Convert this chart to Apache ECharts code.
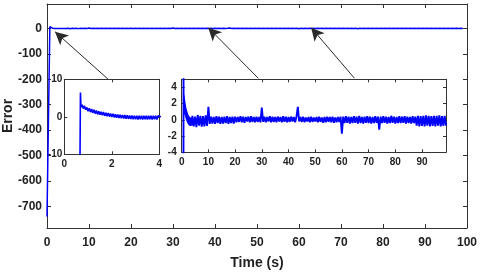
<!DOCTYPE html>
<html>
<head>
<meta charset="utf-8">
<script src="https://cdn.jsdelivr.net/npm/echarts@6/dist/echarts.min.js"></script>
<style>html,body{margin:0;padding:0;background:#fff;}#c{width:480px;height:274px;}</style>
</head>
<body>
<div id="c"></div>
<script>
// ---- DATA ----
// initial transient (time s, error)
const startT = [0, 0.66, 0.68, 0.70];
const startE = [-740, -12, 6.5, 2.6];
// decay segment, sampled every 0.05 s from 0.75 s
const decayT0 = 0.75, decayStep = 0.05;
const decayE = [3.2,2.2,2.9,1.9,2.5,1.5,2.3,1.25,2.05,1.05,1.85,0.85,1.65,0.65,1.5,0.55,1.35,0.4,1.25,0.25,
  1.1,0.15,1.0,0.05,0.9,-0.05,0.8,-0.15,0.7,-0.25,0.6,-0.3,0.55,-0.4,0.5,-0.45,0.45,-0.5,0.4,-0.55,
  0.35,-0.6,0.35,-0.65,0.3,-0.65,0.3,-0.7,0.25,-0.65,0.3,-0.75,0.25,-0.65,0.3,-0.7,0.25,-0.65,0.3,-0.7,
  0.25,-0.65,0.3,-0.7,0.25];
// steady-state segment, sampled every 0.5 s from 4 s
const longT0 = 4, longStep = 0.5;
const longE = [
  0.5,-0.8,0.4,-0.9,0.6,-0.7,0.5,-0.85,0.45,-0.8,0.55,-0.75,
  1.6,
  -0.5,0.4,-0.45,0.35,-0.5,0.45,-0.4,0.4,-0.5,0.35,-0.45,0.4,-0.4,0.45,-0.5,0.35,-0.4,0.4,-0.45,
  0.4,-0.3,0.35,-0.25,0.45,-0.3,0.4,-0.35,0.35,-0.2,0.4,-0.3,0.45,-0.25,0.35,-0.3,0.4,-0.25,0.35,-0.3,
  1.5,
  -0.25,0.4,-0.3,0.35,-0.2,0.45,-0.3,0.4,-0.25,0.35,-0.3,0.4,-0.2,0.35,-0.3,0.45,-0.25,0.4,-0.3,0.35,-0.25,0.4,-0.2,0.35,-0.3,0.4,
  1.6,
  -0.2,0.35,-0.25,0.4,-0.3,0.3,-0.2,0.35,-0.3,0.4,-0.25,0.3,-0.2,0.35,-0.3,0.4,-0.25,0.3,-0.35,0.35,-0.3,0.4,-0.25,0.35,-0.3,0.4,-0.35,0.3,-0.3,0.35,-0.25,0.4,
  -1.7,
  0.4,-0.4,0.45,-0.35,0.4,-0.45,0.35,-0.4,0.45,-0.35,0.4,-0.45,0.5,-0.4,0.35,-0.45,0.4,-0.35,0.45,-0.4,0.4,-0.45,0.35,-0.4,0.45,-0.35,0.4,
  -1.2,
  0.4,-0.4,0.45,-0.35,0.4,-0.45,0.35,-0.4,0.5,-0.35,0.4,-0.45,0.35,-0.4,0.45,-0.4,0.4,-0.35,0.45,-0.45,0.4,-0.4,0.35,-0.45,0.45,-0.4,0.4,
  -0.7,0.5,-0.8,0.45,-0.75,0.5,-0.8,0.55,-0.7,0.5,-0.8,0.45,-0.75,0.5,-0.8,0.5,-0.7,0.55,-0.8,0.45,-0.75,0.5,-0.7
];
// tick values
const mainYTicks = [0,-100,-200,-300,-400,-500,-600,-700];
const inset1YTicks = [-10,0,10];
const inset2YTicks = [-4,-2,0,2,4];
// arrows: [tail time, tail error, head time, head error] in main-axis units
const arrows = [[14.5,-199,1.9,-13],[50.3,-196,38.4,3],[73.2,-196,62.9,3]];
// labels
const xName = 'Time (s)';
const yName = 'Error';

// ---- BUILD ----
const data = [];
startT.forEach((t,i)=>data.push([t,startE[i]]));
decayE.forEach((e,i)=>data.push([+(decayT0+i*decayStep).toFixed(3),e]));
longE.forEach((e,i)=>data.push([+(longT0+i*longStep).toFixed(3),e]));

const FONT = "'Liberation Sans', Arial, sans-serif";
const AX = '#333';
const TXT = '#222';

function xAx(grid, min, max, interval, fs, margin, tickLen, top, extra) {
  return Object.assign({
    type:'value', gridIndex:grid, min:min, max:max, interval:interval,
    position: top ? 'top' : 'bottom',
    axisLine:{show:true, onZero:false, lineStyle:{color:AX, width:1}},
    axisTick:{show:true, inside:true, length:tickLen, lineStyle:{color:AX}},
    axisLabel:{show:!top, fontFamily:FONT, fontWeight:'bold', fontSize:fs, color:TXT, margin:margin,
      showMinLabel:true, showMaxLabel:(max % interval === 0)},
    splitLine:{show:false}
  }, extra||{});
}
function yAx(grid, min, max, ticks, fs, margin, tickLen, right, extra) {
  return Object.assign({
    type:'value', gridIndex:grid, min:min, max:max,
    position: right ? 'right' : 'left',
    axisLine:{show:true, onZero:false, lineStyle:{color:AX, width:1}},
    axisTick:{show:true, inside:true, length:tickLen, lineStyle:{color:AX}, customValues:ticks},
    axisLabel:{show:!right, fontFamily:FONT, fontWeight:'bold', fontSize:fs, color:TXT, margin:margin, customValues:ticks},
    splitLine:{show:false}
  }, extra||{});
}

const option = {
  animation:false,
  backgroundColor:'#fff',
  grid:[
    {left:47, top:4, width:420, height:224, outerBoundsMode:'none', containLabel:false},
    {left:64.3, top:79.3, width:95, height:75, outerBoundsMode:'none', containLabel:false},
    {left:181.7, top:79.3, width:264.3, height:73, outerBoundsMode:'none', containLabel:false}
  ],
  xAxis:[
    xAx(0,0,100,10,12,9,4,false,{name:xName, nameLocation:'middle', nameGap:28, nameMoveOverlap:false,
      nameTextStyle:{fontFamily:FONT, fontWeight:'bold', fontSize:14, color:TXT}}),
    xAx(0,0,100,10,12,9,4,true),
    xAx(1,0,4,2,10,5,3,false),
    xAx(1,0,4,2,10,5,3,true),
    xAx(2,0,99,10,10,5,3,false),
    xAx(2,0,99,10,10,5,3,true)
  ],
  yAxis:[
    yAx(0,-785,96,mainYTicks,12,5,4,false,{name:yName, nameLocation:'middle', nameGap:32, nameMoveOverlap:false,
      nameTextStyle:{fontFamily:FONT, fontWeight:'bold', fontSize:14, color:TXT}}),
    yAx(0,-785,96,mainYTicks,12,5,4,true),
    yAx(1,-10,10,inset1YTicks,10,2,3,false),
    yAx(1,-10,10,inset1YTicks,10,2,3,true),
    yAx(2,-4,5,inset2YTicks,10,5,3,false),
    yAx(2,-4,5,inset2YTicks,10,5,3,true)
  ],
  series:[
    {type:'line', xAxisIndex:0, yAxisIndex:0, data:data, showSymbol:false, symbol:'none',
      lineStyle:{color:'#0000ff', width:1.5}, clip:true,
      markLine:{silent:true, symbol:['none','arrow'], symbolSize:[10,13],
        lineStyle:{color:'#2a2a2a', width:1, type:'solid'}, label:{show:false},
        data: arrows.map(a=>[{coord:[a[0],a[1]]},{coord:[a[2],a[3]]}])}
    },
    {type:'line', xAxisIndex:2, yAxisIndex:2, data:data, showSymbol:false, symbol:'none',
      lineStyle:{color:'#0000ff', width:1.6}, clip:true},
    {type:'line', xAxisIndex:4, yAxisIndex:4, data:data, showSymbol:false, symbol:'none',
      lineStyle:{color:'#0000ff', width:1.9}, clip:true}
  ]
};
const chart = echarts.init(document.getElementById('c'), null, {renderer:'canvas'});
chart.setOption(option);
</script>
</body>
</html>
